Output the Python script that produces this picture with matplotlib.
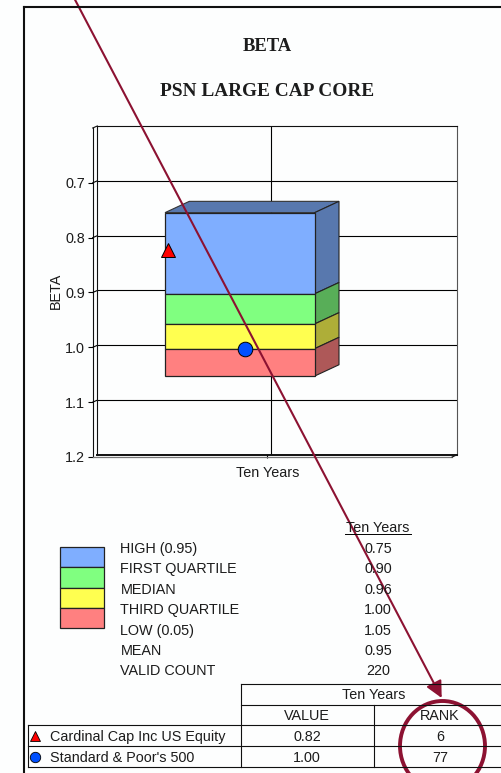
import matplotlib
matplotlib.use('Agg')
import matplotlib.pyplot as plt
from matplotlib.patches import Polygon, Rectangle, Ellipse, FancyArrowPatch
from matplotlib.transforms import Affine2D

W, H = 501, 773
px = 0.72  # points per pixel at dpi 100
fs = 10.4
plt.rcParams['font.family'] = ['Liberation Sans', 'DejaVu Sans']
plt.rcParams['text.color'] = '#1c1c1c'
plt.rcParams['xtick.labelcolor'] = '#1c1c1c'
plt.rcParams['ytick.labelcolor'] = '#1c1c1c'
plt.rcParams['axes.labelcolor'] = '#1c1c1c'

# data
y_ticks = [0.7, 0.8, 0.9, 1.0, 1.1, 1.2]
category = 'Ten Years'
band_edges = [0.752, 0.90, 0.955, 1.00, 1.05]
face_colors = ['#7FAEFF', '#80FF80', '#FFFF50', '#FF8080']
side_colors = ['#5878AE', '#58AE58', '#AEAE38', '#AE5858']
stat_names = ['HIGH (0.95)', 'FIRST QUARTILE', 'MEDIAN', 'THIRD QUARTILE',
              'LOW (0.05)', 'MEAN', 'VALID COUNT']
stat_values = ['0.75', '0.90', '0.96', '1.00', '1.05', '0.95', '220']
managers = ['Cardinal Cap Inc US Equity', "Standard & Poor's 500"]
manager_values = [0.82, 1.00]
manager_ranks = [6, 77]
manager_markers = ['^', 'o']
manager_colors = ['#FF0000', '#0050FF']
manager_x = [-99, -21.7]

bg = '#FDFEFE'
dark = '#101010'
arrow_col = '#8C1232'

fig = plt.figure(figsize=(W / 100, H / 100), dpi=100, facecolor=bg)

# chart axes sit on the back wall
left, right, top, bottom = 97.3, 456.7, 126, 455
ax = fig.add_axes([left / W, 1 - bottom / H, (right - left) / W, (bottom - top) / H])
ax.set_facecolor(bg)
ax.set_xlim(left - 271.3, right - 271.3)
ax.set_ylim(1.2, 0.6)
for s in ax.spines.values():
    s.set_linewidth(0.8)
    s.set_color(dark)
ax.spines['right'].set_color('#555555')
ax.spines['bottom'].set_linewidth(1.4)
ax.hlines(y_ticks[:-1], left - 271.3, right - 271.3, color='black', lw=0.8, zorder=1)
ax.axvline(0, color='black', lw=0.8, zorder=1)

front = ax.transData + Affine2D().translate(-4.6, -3.3)
floor = ax.transData + Affine2D().translate(-4.6, -2)

# y axis
ax.set_yticks(y_ticks)
ax.set_xticks([0])
ax.set_xticklabels([category], fontsize=fs)
ax.tick_params(axis='y', length=4.6 * px, width=0.8, pad=2.3, labelsize=fs, color='black')
ax.tick_params(axis='x', length=5 * px, width=0.8, pad=6, direction='inout')
for t in ax.yaxis.get_major_ticks():
    t.tick1line.set_transform(t.tick1line.get_transform() + Affine2D().translate(-4.6, -2))
    t.label1.set_transform(t.label1.get_transform() + Affine2D().translate(-4.6, -2))
for t in ax.xaxis.get_major_ticks():
    t.tick1line.set_transform(t.tick1line.get_transform() + Affine2D().translate(-4.6, -1))
    t.label1.set_transform(t.label1.get_transform() + Affine2D().translate(-3.5, 0))
ax.set_ylabel('BETA', fontsize=fs, labelpad=0)
ax.yaxis.set_label_coords((62.5 - left) / (right - left), 0.5)

# front plane of the floor and left wall
x0, x1 = ax.get_xlim()
wall_dy = 2 / 548.3
ax.plot([x0, x0], [0.6, 1.2], color=dark, lw=0.8, transform=floor, clip_on=False)
ax.plot([x0, x1], [1.2, 1.2], color='#777777', lw=0.9, transform=floor, clip_on=False)
ax.plot([x0, x0 + 4.6], [0.6, 0.6 - wall_dy], color=dark, lw=0.8, transform=floor, clip_on=False)
ax.plot([x1, x1 + 4.6], [1.2, 1.2 - wall_dy], color=dark, lw=0.8, transform=floor, clip_on=False)
for v in y_ticks[:-1]:
    ax.plot([x0, x0 + 4.6], [v, v - wall_dy], color='black', lw=0.8, transform=floor, clip_on=False)

# 3d box, front plane plus depth
box_l, box_r = -101.7, 48
dep_x, dep_y = 24.3, 11.3 / 548.3
ax.add_patch(Polygon([(box_l, band_edges[0]), (box_l + dep_x, band_edges[0] - dep_y),
                      (box_r + dep_x, band_edges[0] - dep_y), (box_r, band_edges[0])],
                     fc=side_colors[0], ec='#333333', lw=0.8, transform=front, zorder=2))
for i in range(4):
    v0, v1 = band_edges[i], band_edges[i + 1]
    ax.add_patch(Polygon([(box_r, v0), (box_r + dep_x, v0 - dep_y),
                          (box_r + dep_x, v1 - dep_y), (box_r, v1)],
                         fc=side_colors[i], ec='#222222', lw=0.8, transform=front, zorder=2))
    ax.add_patch(Rectangle((box_l, v0), box_r - box_l, v1 - v0, fc=face_colors[i],
                           ec='#222222', lw=0.9, transform=front, zorder=3))

for mx, v, m, c in zip(manager_x, manager_values, manager_markers, manager_colors):
    ax.plot([mx], [v], marker=m, color=c, mec='black', mew=0.7, ms=10 if m == '^' else 10.5,
            ls='none', transform=front, zorder=4, clip_on=False)

# page overlay in pixel coordinates
page = fig.add_axes([0, 0, 1, 1], zorder=5)
page.set_xlim(0, W)
page.set_ylim(H, 0)
page.axis('off')

# frame
page.plot([24.3, 24.3], [H, 6.8], color=dark, lw=1.5, solid_capstyle='projecting')
page.plot([24.3, W], [6.8, 6.8], color=dark, lw=1.5, solid_capstyle='projecting')

# titles
page.text(267, 51, 'BETA', family='Liberation Serif', weight='bold', fontsize=13.4,
          ha='center', va='baseline')
page.text(267, 96.5, 'PSN LARGE CAP CORE', family='Liberation Serif', weight='bold', fontsize=13.9,
          ha='center', va='baseline')

# legend swatches and stats, text y is the baseline
base = 5
sw_y = [546.7, 567.3, 587.7, 608, 628.3]
for i, c in enumerate(face_colors):
    page.add_patch(Rectangle((60, sw_y[i]), 44.5, sw_y[i + 1] - sw_y[i], fc=c, ec='#222222', lw=0.9))
row_y = [548.3, 568.3, 589, 609.3, 629.7, 650, 670]
for y, name, val in zip(row_y, stat_names, stat_values):
    page.text(120.5, y + base, name, fontsize=fs, ha='left', va='baseline')
    page.text(378, y + base, val, fontsize=fs, ha='center', va='baseline')
page.text(378, 527 + base, category, fontsize=fs, ha='center', va='baseline')
page.plot([345, 411], [533.5, 533.5], color='black', lw=0.7)

# bottom table
rows = [684, 704.7, 725.3, 746, 766.7]
for y in rows[:2]:
    page.plot([241, W], [y, y], color=dark, lw=0.8)
for y in rows[2:]:
    page.plot([28, W], [y, y], color=dark, lw=0.8)
page.plot([241, 241], [rows[0], rows[4]], color=dark, lw=0.8)
page.plot([374, 374], [rows[1], rows[4]], color=dark, lw=0.8)
page.plot([28, 28], [rows[2], rows[4]], color=dark, lw=0.8)
page.text(374, (rows[0] + rows[1]) / 2 + base, category, fontsize=fs, ha='center', va='baseline')
page.text(307, (rows[1] + rows[2]) / 2 + base, 'VALUE', fontsize=fs, ha='center', va='baseline')
page.text(440, (rows[1] + rows[2]) / 2 + base, 'RANK', fontsize=fs, ha='center', va='baseline')
for i in range(2):
    y = (rows[2 + i] + rows[3 + i]) / 2 + 0.7
    page.plot([35.5], [y], marker=manager_markers[i], color=manager_colors[i], mec='black',
              mew=0.6, ms=7.5, ls='none')
    page.text(50, y + base, managers[i], fontsize=fs, ha='left', va='baseline')
    page.text(307, y + base, f'{manager_values[i]:.2f}', fontsize=fs, ha='center', va='baseline')
    page.text(440, y + base, str(manager_ranks[i]), fontsize=fs, ha='center', va='baseline')

# hand drawn style annotation on top
page.add_patch(FancyArrowPatch((72, -6), (441.7, 698), arrowstyle='-|>,head_length=10,head_width=5',
                               mutation_scale=1, color=arrow_col, lw=1.5, shrinkA=0, shrinkB=0,
                               clip_on=False))
page.add_patch(Ellipse((442.5, 746), 85, 90, fc='none', ec=arrow_col, lw=2.8))

fig.savefig('out.png', dpi=100, facecolor=bg)
